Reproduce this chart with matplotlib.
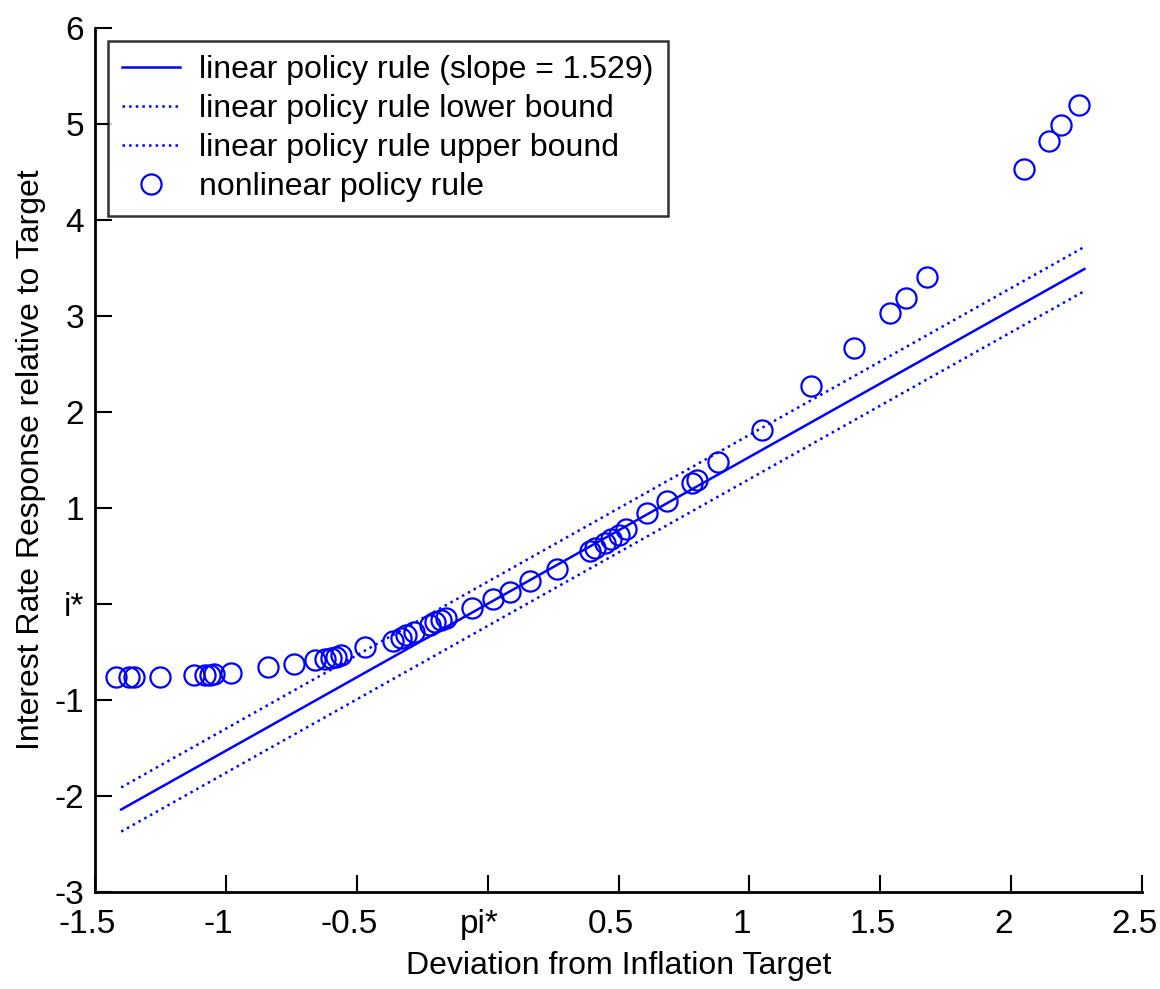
import matplotlib
matplotlib.use("Agg")
import matplotlib.pyplot as plt
from matplotlib.transforms import ScaledTranslation

# deviation from inflation target vs interest rate response (nonlinear rule)
infl_dev = [-1.42, -1.37, -1.35, -1.25, -1.12, -1.08, -1.06, -1.045, -0.98,
            -0.84, -0.74, -0.66, -0.62, -0.60, -0.58, -0.56, -0.47,
            -0.36, -0.33, -0.31, -0.28, -0.22, -0.20, -0.18, -0.16,
            -0.06, 0.02, 0.085, 0.16, 0.265, 0.39, 0.41, 0.45, 0.47, 0.50, 0.53,
            0.61, 0.685, 0.78, 0.80, 0.88, 1.05, 1.235, 1.40, 1.537, 1.60, 1.68,
            2.05, 2.145, 2.19, 2.26]
rate_resp = [-0.76, -0.76, -0.76, -0.76, -0.74, -0.74, -0.74, -0.73, -0.72,
             -0.66, -0.62, -0.58, -0.57, -0.56, -0.55, -0.53, -0.45,
             -0.38, -0.35, -0.32, -0.29, -0.22, -0.19, -0.17, -0.15,
             -0.04, 0.05, 0.13, 0.24, 0.37, 0.55, 0.58, 0.64, 0.68, 0.72, 0.78,
             0.95, 1.07, 1.26, 1.29, 1.48, 1.81, 2.27, 2.67, 3.03, 3.19, 3.41,
             4.53, 4.82, 4.99, 5.2]

# linear rule and bounds, endpoints
line_x = [-1.4, 2.28]
line_mid = [-2.14, 3.49]
line_up = [-1.91, 3.72]
line_lo = [-2.37, 3.26]

xticks = [-1.5, -1, -0.5, 0, 0.5, 1, 1.5, 2, 2.5]
xticklabels = ['-1.5', '-1', '-0.5', 'pi*', '0.5', '1', '1.5', '2', '2.5']
yticks = [-3, -2, -1, 0, 1, 2, 3, 4, 5, 6]
yticklabels = ['-3', '-2', '-1', 'i*', '1', '2', '3', '4', '5', '6']

plt.rcParams['font.family'] = ['Liberation Sans', 'DejaVu Sans']
fs = 23

fig = plt.figure(figsize=(11.6, 9.89), dpi=100)
ax = fig.add_axes([0.0819, 0.098, 0.9026, 0.8737])

blue = '#0000ff'
ax.plot(line_x, line_mid, '-', color=blue, lw=1.8,
        label='linear policy rule (slope = 1.529)')
ax.plot(line_x, line_lo, ':', color=blue, lw=1.8,
        label='linear policy rule lower bound')
ax.plot(line_x, line_up, ':', color=blue, lw=1.8,
        label='linear policy rule upper bound')
ax.plot(infl_dev, rate_resp, 'o', mfc='none', mec=blue, ms=14.5, mew=1.6,
        ls='none', label='nonlinear policy rule')

ax.set_xlim(-1.5, 2.5)
ax.set_ylim(-3, 6)
ax.set_xticks(xticks)
ax.set_xticklabels(xticklabels)
ax.set_yticks(yticks)
ax.set_yticklabels(yticklabels)
ax.tick_params(direction='in', length=12, width=1.5, labelsize=24)
ax.tick_params(axis='x', pad=12)
ax.tick_params(axis='y', pad=8)
ax.spines['top'].set_visible(False)
ax.spines['right'].set_visible(False)
ax.spines['left'].set_linewidth(2)
ax.spines['bottom'].set_linewidth(2)

# x labels sit a little left of their ticks in the original
shift = ScaledTranslation(-8 / 100, 0, fig.dpi_scale_trans)
for lab in ax.get_xticklabels():
    lab.set_transform(lab.get_transform() + shift)

ax.set_xlabel('Deviation from Inflation Target', fontsize=fs, labelpad=8)
ax.set_ylabel('Interest Rate Response relative to Target', fontsize=fs, labelpad=6)

leg = ax.legend(loc='upper left', fontsize=fs, frameon=True, fancybox=False,
                edgecolor='black', borderpad=0.45, labelspacing=0.28,
                handlelength=1.8, handletextpad=0.6, borderaxespad=0.4)
leg.get_frame().set_linewidth(1.8)

fig.savefig('out.png', dpi=100)
